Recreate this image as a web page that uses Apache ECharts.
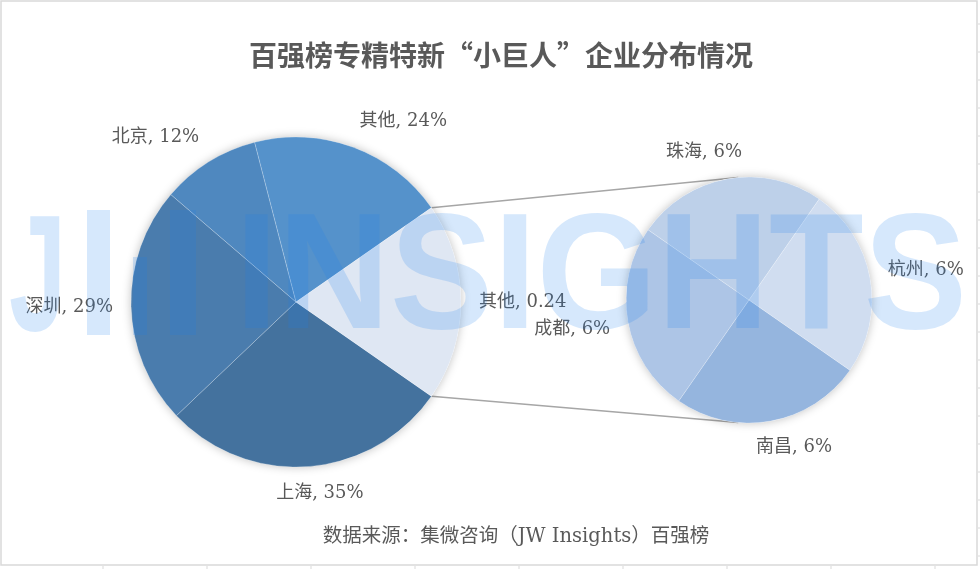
<!DOCTYPE html>
<html><head><meta charset="utf-8">
<script src="https://cdn.jsdelivr.net/npm/echarts@6/dist/echarts.min.js"></script>
<style>html,body{margin:0;padding:0;background:#fff}#c{width:980px;height:569px}</style>
</head><body><div id="c"></div>
<script>
// ---- data ----
const mainNames = ['上海', '深圳', '北京', '其他', '其他'];
const mainValues = [35, 29, 12, 24, 24];
const compositeIndex = 4; // the "其他" slice that is broken out into the second pie
const subNames = ['南昌', '成都', '珠海', '杭州'];
const subValues = [6, 6, 6, 6];
const titleText = '百强榜专精特新“小巨人”企业分布情况';
const sourceText = '数据来源：集微咨询（JW Insights）百强榜';

// ---- styles ----
const mainColors = ['#44729e', '#4a7cad', '#4f88bf', '#5592cb', '#dfe7f3'];
const subColors = ['#95b5de', '#adc5e6', '#bdd0e9', '#d0ddf0'];
const MAIN = {cx: 296, cy: 302, r: 165};
const SUB = {cx: 749, cy: 300, r: 123};
const labelFont = '"DejaVu Serif", "Noto Sans CJK SC", serif';
const textColor = '#595959';

const sum = a => a.reduce((s, v) => s + v, 0);
const mainTotal = sum(mainValues);
const compSpan = mainValues[compositeIndex] / mainTotal * 360;
const startAngle = -compSpan / 2;           // echarts convention (ccw positive)
const screenStart = compSpan / 2;           // clockwise screen angle of first slice start

function midAngles(values) {
  const s = sum(values); let acc = screenStart;
  return values.map(v => { const a = v / s * 360; const m = acc + a / 2; acc += a; return m; });
}
const mainMids = midAngles(mainValues);
const subMids = midAngles(subValues);

function makeLayout(geo, mids) {
  return function (p) {
    const m = mids[p.dataIndex] * Math.PI / 180;
    const ux = Math.cos(m), uy = Math.sin(m);
    const w = p.labelRect.width, h = p.labelRect.height;
    const d = geo.r + 18;
    const cl = v => Math.max(-1, Math.min(1, v * 3));
    return {
      x: geo.cx + ux * d + w / 2 * cl(ux),
      y: geo.cy + uy * d + h / 2 * cl(uy),
      align: 'center', verticalAlign: 'middle'
    };
  };
}

const labelStyle = {
  show: true, position: 'outside', fontFamily: labelFont, fontSize: 18,
  color: textColor, overflow: 'none', width: 200, bleedMargin: 0
};

// connector lines from composite slice edges to the secondary pie
const ca = compSpan / 2 * Math.PI / 180;
const subEdge = 95 * Math.PI / 180;
const p1 = [MAIN.cx + MAIN.r * Math.cos(ca), MAIN.cy - MAIN.r * Math.sin(ca)];
const p2 = [MAIN.cx + MAIN.r * Math.cos(ca), MAIN.cy + MAIN.r * Math.sin(ca)];
const q1 = [SUB.cx + SUB.r * Math.cos(subEdge), SUB.cy - SUB.r * Math.sin(subEdge)];
const q2 = [SUB.cx + SUB.r * Math.cos(subEdge), SUB.cy + SUB.r * Math.sin(subEdge)];

const wmFill = 'rgba(30,130,240,0.18)';
const wmFont = 'bold 166px "Liberation Sans", Arial, sans-serif';

const graphics = [
  {type: 'rect', shape: {x: 1, y: 1, width: 976, height: 564}, style: {fill: 'none', stroke: '#d9d9d9', lineWidth: 1.5}, z: 0, silent: true},
  {type: 'text', x: 501, y: 55, style: {text: titleText, font: 'bold 28px "Noto Sans CJK SC", sans-serif', fill: textColor, align: 'center', verticalAlign: 'middle'}, z: 5},
  {type: 'text', x: 516, y: 537, style: {text: sourceText, font: '19.5px "DejaVu Serif", "Noto Sans CJK SC", serif', fill: textColor, align: 'center', verticalAlign: 'middle'}, z: 5},
  {type: 'line', shape: {x1: p1[0], y1: p1[1], x2: q1[0], y2: q1[1]}, style: {stroke: '#a6a6a6', lineWidth: 1.5}, z: 1},
  {type: 'line', shape: {x1: p2[0], y1: p2[1], x2: q2[0], y2: q2[1]}, style: {stroke: '#a6a6a6', lineWidth: 1.5}, z: 1},
  // watermark
  {type: 'text', x: 9, y: 284, scaleX: 0.62, style: {text: 'J', font: wmFont, fill: wmFill, align: 'left', verticalAlign: 'middle'}, z: 50, silent: true},
  {type: 'rect', shape: {x: 87, y: 210, width: 23, height: 125}, style: {fill: wmFill}, z: 50, silent: true},
  {type: 'rect', shape: {x: 133, y: 257, width: 14, height: 78}, style: {fill: wmFill}, z: 50, silent: true},
  {type: 'rect', shape: {x: 170, y: 210, width: 26, height: 125}, style: {fill: wmFill}, z: 50, silent: true},
  {type: 'text', x: 235, y: 282, scaleX: 0.934, style: {text: 'INSIGHTS', font: wmFont, fill: wmFill, align: 'left', verticalAlign: 'middle'}, z: 50, silent: true}
];
for (let i = 0; i < 9; i++) {
  const x = 103 + 104 * i;
  graphics.push({type: 'line', shape: {x1: x, y1: 566, x2: x, y2: 569}, style: {stroke: '#d9d9d9', lineWidth: 1}, silent: true});
}
for (let y = 24; y < 566; y += 28) {
  graphics.push({type: 'line', shape: {x1: 978, y1: y, x2: 980, y2: y}, style: {stroke: '#d9d9d9', lineWidth: 1}, silent: true});
}

const chart = echarts.init(document.getElementById('c'), null, {renderer: 'canvas'});
chart.setOption({
  backgroundColor: '#ffffff',
  animation: false,
  graphic: graphics,
  series: [
    { // soft shadow behind main pie
      type: 'pie', center: [MAIN.cx, MAIN.cy], radius: MAIN.r, silent: true, z: 1,
      label: {show: false}, labelLine: {show: false},
      itemStyle: {color: '#ffffff', shadowBlur: 10, shadowColor: 'rgba(0,0,0,0.25)'},
      data: [{value: mainTotal, name: 'bg'}]
    },
    {
      type: 'pie', center: [MAIN.cx, MAIN.cy], radius: MAIN.r, startAngle: startAngle,
      clockwise: true, z: 2, avoidLabelOverlap: false,
      data: mainNames.map((n, i) => ({name: n, value: mainValues[i], itemStyle: {color: mainColors[i]}})),
      itemStyle: {borderColor: 'rgba(255,255,255,0.35)', borderWidth: 0.6},
      label: Object.assign({}, labelStyle, {
        formatter: p => p.dataIndex === compositeIndex ? `${p.name}, ${p.value / 100}` : `${p.name}, ${p.value}%`
      }),
      labelLine: {show: false},
      labelLayout: makeLayout(MAIN, mainMids)
    },
    {
      type: 'pie', center: [SUB.cx, SUB.cy], radius: SUB.r, silent: true, z: 1,
      label: {show: false}, labelLine: {show: false},
      itemStyle: {color: '#ffffff', shadowBlur: 10, shadowColor: 'rgba(0,0,0,0.25)'},
      data: [{value: sum(subValues), name: 'bg'}]
    },
    {
      type: 'pie', center: [SUB.cx, SUB.cy], radius: SUB.r, startAngle: startAngle,
      clockwise: true, z: 2, avoidLabelOverlap: false,
      data: subNames.map((n, i) => ({name: n, value: subValues[i], itemStyle: {color: subColors[i]}})),
      itemStyle: {borderColor: 'rgba(255,255,255,0.35)', borderWidth: 0.6},
      label: Object.assign({}, labelStyle, {formatter: p => `${p.name}, ${p.value}%`}),
      labelLine: {show: false},
      labelLayout: makeLayout(SUB, subMids)
    }
  ]
});
</script>
</body></html>
